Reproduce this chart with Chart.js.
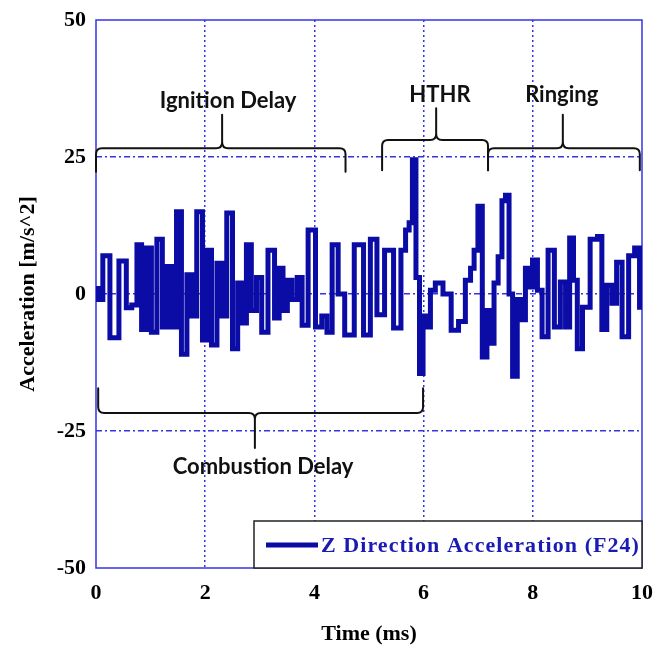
<!DOCTYPE html>
<html>
<head>
<meta charset="utf-8">
<script src="https://cdn.jsdelivr.net/npm/chart.js@4"></script>
<style>
    html, body { margin: 0; padding: 0; background: #fff; }
    #wrap { width: 656px; height: 648px; }
</style>
</head>
<body>
<div id="wrap"><canvas id="accelChart" width="656" height="648"></canvas></div>
<script>
// Time axis (ms) and Z acceleration (m/s^2)
const timeMs = [0, 0.07, 0.18, 0.33, 0.51, 0.60, 0.71, 0.79, 0.88, 0.97,
    1.06, 1.17, 1.26, 1.34, 1.43, 1.52, 1.61, 1.72, 1.79, 1.90,
    2.00, 2.07, 2.16, 2.27, 2.34, 2.45, 2.55, 2.64, 2.71, 2.80,
    2.89, 2.99, 3.08, 3.22, 3.32, 3.39, 3.46, 3.55, 3.63, 3.74,
    3.81, 3.96, 4.08, 4.19, 4.27, 4.38, 4.49, 4.62, 4.84, 4.96,
    5.09, 5.20, 5.37, 5.53, 5.64, 5.70, 5.77, 5.82, 5.90, 5.95,
    6.03, 6.10, 6.15, 6.28, 6.43, 6.58, 6.70, 6.83, 6.89, 6.96,
    7.03, 7.12, 7.20, 7.25, 7.33, 7.40, 7.47, 7.53, 7.60, 7.66,
    7.77, 7.84, 7.89, 7.95, 8.04, 8.13, 8.21, 8.35, 8.44, 8.57,
    8.63, 8.72, 8.77, 8.86, 8.96, 9.14, 9.23, 9.30, 9.41, 9.49,
    9.58, 9.69, 9.82, 9.91, 10.0];
const zAccel = [1, -1, 7, -8, 6, -2.5, -2, 9, -6.5, 8.4,
    -7, 10, -6, 5, -6, 15, -11, 3.5, -4, 15,
    -8.4, 8, -9.3, 5.6, -4, 14.8, -10, 2, -5.3, 9,
    -3, 3, -7, 8, -4.4, 4.7, -3, 2.5, -1, 3,
    -5.7, 11.7, -6, -4, -7, 9, 0, -7.5, 9, -7.5,
    10, -3.8, 8, -6.2, 8, 11.7, 13, 24.5, 3, -14.5,
    -4, -6, 0.7, 2, 0, -6.6, -5, 2.5, 4.7, 8,
    16, -11.5, -3, -9, 2, 6.8, 17, 18, 0, -15,
    -1, -4.7, 4.7, 1.3, 6.2, 0.7, -7.8, 8, -6, 2.2,
    -6, 10.2, 2.5, -10, -2.4, 10, 10.5, -6.5, 1.6, -1.7,
    5.8, -7.8, 7, 8.4, -2.4];

const xTicks = [0, 2, 4, 6, 8, 10];
const yTicks = [-50, -25, 0, 25, 50];
const seriesLabel = 'Z Direction Acceleration (F24)';

// phase braces, in data units
const phases = [
    { label: 'Ignition Delay', from: 0, to: 4.57, tip: 2.31, line: 26.6, end: 22.3, peak: 32.7, tx: 2.42, ty: 35.2 },
    { label: 'HTHR', from: 5.24, to: 7.18, tip: 6.23, line: 28.1, end: 22.6, peak: 33.9, tx: 6.3, ty: 36.3 },
    { label: 'Ringing', from: 7.18, to: 9.96, tip: 8.55, line: 26.6, end: 22.6, peak: 32.7, tx: 8.53, ty: 36.3 },
    { label: 'Combustion Delay', from: 0.04, to: 5.99, tip: 2.91, line: -21.7, end: -17.2, peak: -28.1, tx: 3.06, ty: -31.6 }
];

const LINE_BLUE = '#0b0ba6';
const GRID_BLUE = '#3434e6';
const serif = "'Liberation Serif', 'Times New Roman', serif";

function drawBrace(ctx, x1, x2, xm, yl, ye, yt) {
    const dir = ye > yl ? 1 : -1;
    const r = 6;
    ctx.beginPath();
    ctx.moveTo(x1, ye);
    ctx.lineTo(x1, yl + dir * r);
    ctx.quadraticCurveTo(x1, yl, x1 + r, yl);
    ctx.lineTo(xm - r, yl);
    ctx.quadraticCurveTo(xm, yl, xm, yl - dir * r);
    ctx.lineTo(xm, yt);
    ctx.moveTo(x2, ye);
    ctx.lineTo(x2, yl + dir * r);
    ctx.quadraticCurveTo(x2, yl, x2 - r, yl);
    ctx.lineTo(xm + r, yl);
    ctx.quadraticCurveTo(xm, yl, xm, yl - dir * r);
    ctx.stroke();
}

const decorPlugin = {
    id: 'decor',
    beforeDatasetsDraw(chart) {
        const { ctx, chartArea: a } = chart;
        // blue frame around the plot
        ctx.save();
        ctx.strokeStyle = GRID_BLUE;
        ctx.lineWidth = 1.5;
        ctx.strokeRect(a.left, a.top, a.right - a.left, a.bottom - a.top);
        ctx.restore();
    },
    afterDatasetsDraw(chart) {
        const { ctx, chartArea: a } = chart;
        const xs = chart.scales.x, ys = chart.scales.y;

        ctx.save();
        ctx.strokeStyle = '#111';
        ctx.lineWidth = 2;
        ctx.lineCap = 'round';
        phases.forEach(p => {
            drawBrace(ctx, xs.getPixelForValue(p.from), xs.getPixelForValue(p.to),
                xs.getPixelForValue(p.tip), ys.getPixelForValue(p.line),
                ys.getPixelForValue(p.end), ys.getPixelForValue(p.peak));
        });
        ctx.fillStyle = '#111';
        ctx.font = "bold 22px Lato, 'Open Sans', sans-serif";
        ctx.textAlign = 'center';
        ctx.textBaseline = 'middle';
        phases.forEach(p => {
            ctx.fillText(p.label, xs.getPixelForValue(p.tx), ys.getPixelForValue(p.ty));
        });
        ctx.restore();

        // legend box in the lower right corner
        const bx = a.right - 388, by = a.bottom - 47;
        ctx.save();
        ctx.fillStyle = '#fff';
        ctx.fillRect(bx, by, a.right - bx, a.bottom - by);
        ctx.strokeStyle = '#222';
        ctx.lineWidth = 1.5;
        ctx.strokeRect(bx, by, a.right - bx, a.bottom - by);
        ctx.strokeStyle = LINE_BLUE;
        ctx.lineWidth = 5;
        ctx.beginPath();
        ctx.moveTo(bx + 12, by + 24);
        ctx.lineTo(bx + 64, by + 24);
        ctx.stroke();
        ctx.fillStyle = '#1a1ab4';
        ctx.font = 'bold 22px ' + serif;
        ctx.textAlign = 'left';
        ctx.textBaseline = 'middle';
        const room = a.right - (bx + 67) - 2;
        const w = ctx.measureText(seriesLabel).width;
        ctx.letterSpacing = Math.max(0, (room - w) / seriesLabel.length) + 'px';
        ctx.fillText(seriesLabel, bx + 67, by + 25);
        ctx.restore();
    }
};

document.addEventListener('DOMContentLoaded', () => {
    const ctx = document.getElementById('accelChart').getContext('2d');
    new Chart(ctx, {
        type: 'line',
        data: {
            datasets: [{
                label: seriesLabel,
                data: timeMs.map((t, i) => ({ x: t, y: zAccel[i] })),
                borderColor: LINE_BLUE,
                borderWidth: 5,
                borderJoinStyle: 'miter',
                pointRadius: 0,
                stepped: 'middle',
                fill: false
            }]
        },
        options: {
            responsive: false,
            animation: false,
            layout: { padding: { left: 0, right: 14, top: 20, bottom: 0 } },
            plugins: { legend: { display: false }, tooltip: { enabled: false } },
            scales: {
                x: {
                    type: 'linear',
                    min: 0, max: 10,
                    afterBuildTicks: s => { s.ticks = xTicks.map(v => ({ value: v })); },
                    afterFit: s => { s.height = 80; s.paddingLeft = 0; s.paddingRight = 0; },
                    grid: {
                        color: c => (c.tick.value === 0 || c.tick.value === 10) ? 'rgba(0,0,0,0)' : GRID_BLUE,
                        lineWidth: 1.5,
                        drawTicks: false
                    },
                    border: { display: false, dash: [2, 3] },
                    ticks: {
                        color: '#000',
                        padding: 12,
                        maxRotation: 0,
                        font: { family: serif, size: 22, weight: 'bold' }
                    },
                    title: {
                        display: true,
                        text: 'Time (ms)',
                        color: '#000',
                        padding: { top: 0, bottom: 0 },
                        font: { family: serif, size: 22, weight: 'bold' }
                    }
                },
                y: {
                    min: -50, max: 50,
                    afterBuildTicks: s => { s.ticks = yTicks.map(v => ({ value: v })); },
                    afterFit: s => { s.width = 96; s.paddingTop = 0; s.paddingBottom = 0; },
                    grid: {
                        color: c => (Math.abs(c.tick.value) === 50) ? 'rgba(0,0,0,0)' : GRID_BLUE,
                        lineWidth: 1.5,
                        drawTicks: false
                    },
                    border: { display: false, dash: [6, 3, 2, 3] },
                    ticks: {
                        color: '#000',
                        padding: 10,
                        font: { family: serif, size: 22, weight: 'bold' }
                    },
                    title: {
                        display: true,
                        text: 'Acceleration [m/s^2]',
                        color: '#000',
                        padding: { top: 15, bottom: 0 },
                        font: { family: serif, size: 22, weight: 'bold' }
                    }
                }
            }
        },
        plugins: [decorPlugin]
    });
});
</script>
</body>
</html>
